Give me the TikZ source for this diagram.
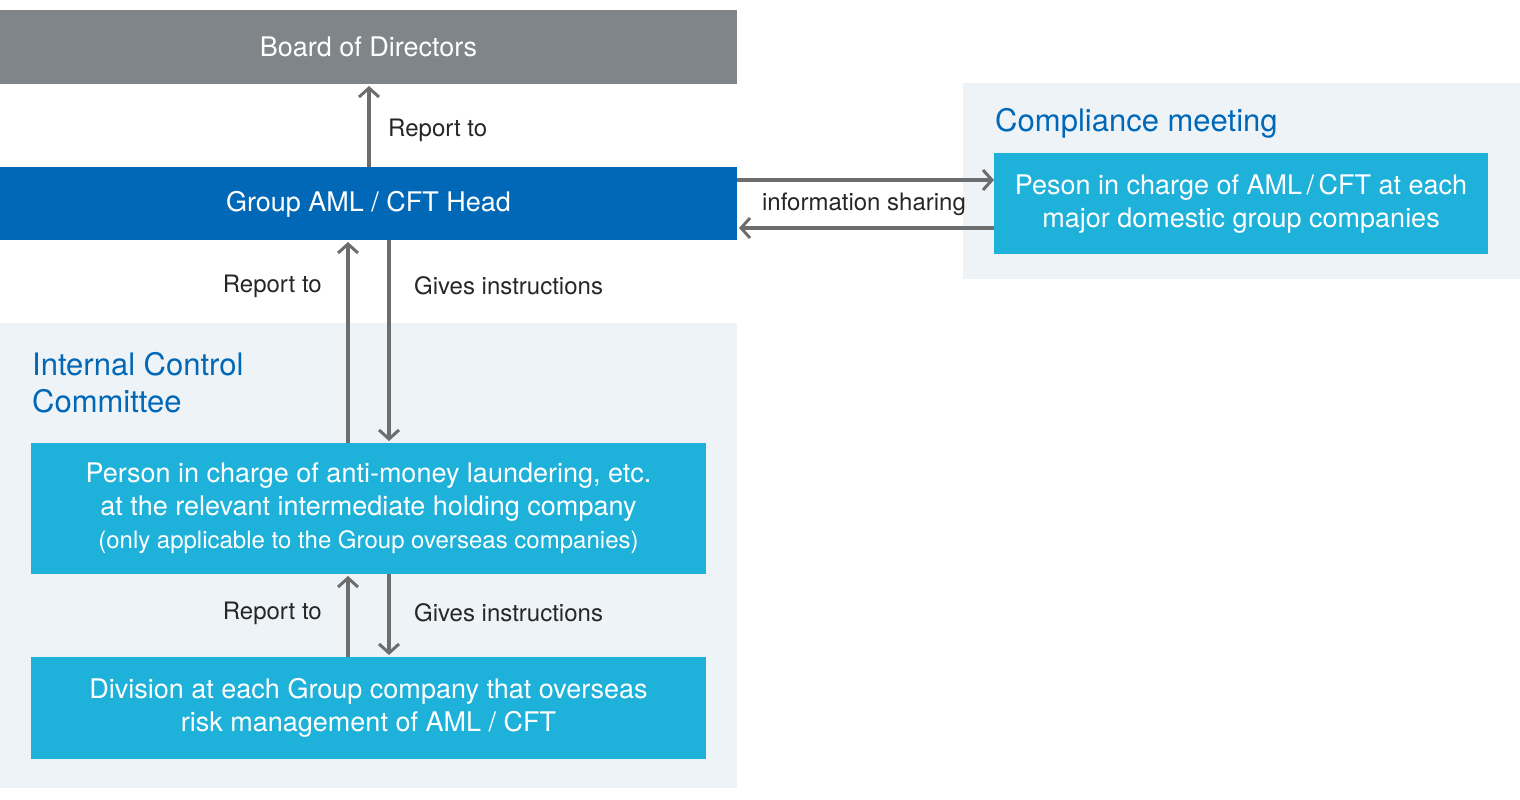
\documentclass[tikz,border=0pt]{standalone}
\usepackage{fontspec}
\setmainfont{TeX Gyre Heros}
\usetikzlibrary{arrows.meta}
\definecolor{grayb}{HTML}{7F8588}
\definecolor{blueb}{HTML}{0068B7}
\definecolor{cyanb}{HTML}{1EB1D9}
\definecolor{bgl}{HTML}{EEF3F7}
\definecolor{arr}{HTML}{6D6D6D}
\tikzset{
 box/.style={inner sep=0,text=white,align=center,font=\fontsize{27}{33}\selectfont},
 lab/.style={inner sep=0,text=black!85,font=\fontsize{24}{28}\selectfont},
 ttl/.style={inner sep=0,text=blueb,align=left,font=\fontsize{31}{37}\selectfont},
 ar/.style={draw=arr,line width=3.5pt,-{Straight Barb[length=9pt,width=20pt,line width=3pt]}}
}
\begin{document}
\begin{tikzpicture}[x=1pt,y=-1pt]
\useasboundingbox (0,0) rectangle (1520,800);
\fill[bgl] (963,83) rectangle (1520,279);
\fill[bgl] (0,323) rectangle (737,788);
\fill[grayb] (0,10) rectangle (737,84);
\node[box] (board) at (368.5,47) {Board of Directors};
\fill[blueb] (0,167) rectangle (737,240);
\node[box] (head) at (368.5,204) {Group AML / CFT Head};
\node[ttl,anchor=base west] (cm) at (995,131) {Compliance meeting};
\fill[cyanb] (994,153) rectangle (1488,254);
\node[box] (peson) at (1241,204) {Peson in charge of AML\,/\,CFT at each\\major domestic group companies};
\node[ttl,anchor=north west,text depth=0pt] (icc) at (32,352) {Internal Control\\Committee};
\fill[cyanb] (31,443) rectangle (706,574);
\node[box] (person) at (368.5,508) {Person in charge of anti-money laundering, etc.\\at the relevant intermediate holding company\\{\fontsize{24}{33}\selectfont(only applicable to the Group overseas companies)}};
\fill[cyanb] (31,657) rectangle (706,759);
\node[box] (div) at (368.5,708) {Division at each Group company that overseas\\risk management of AML / CFT};
\coordinate (a1) at (369,167); \coordinate (a2) at (369,86);
\draw[ar] (a1) -- (a2);
\node[lab,anchor=west] (l1) at (388,130) {Report to};
\coordinate (b1) at (348,443); \coordinate (b2) at (348,242);
\draw[ar] (b1) -- (b2);
\coordinate (c1) at (389,240); \coordinate (c2) at (389,441);
\draw[ar] (c1) -- (c2);
\node[lab,anchor=east] (l2) at (322,286) {Report to};
\node[lab,anchor=west] (l3) at (414,286) {Gives instructions};
\coordinate (d1) at (348,657); \coordinate (d2) at (348,576);
\draw[ar] (d1) -- (d2);
\coordinate (e1) at (389,574); \coordinate (e2) at (389,655);
\draw[ar] (e1) -- (e2);
\node[lab,anchor=east] (l4) at (322,613) {Report to};
\node[lab,anchor=west] (l5) at (414,613) {Gives instructions};
\coordinate (f1) at (737,180); \coordinate (f2) at (994,180);
\draw[ar] (f1) -- (f2);
\coordinate (g1) at (994,228); \coordinate (g2) at (739,228);
\draw[ar] (g1) -- (g2);
\node[lab] (l6) at (864,204) {information sharing};
\end{tikzpicture}
\end{document}
